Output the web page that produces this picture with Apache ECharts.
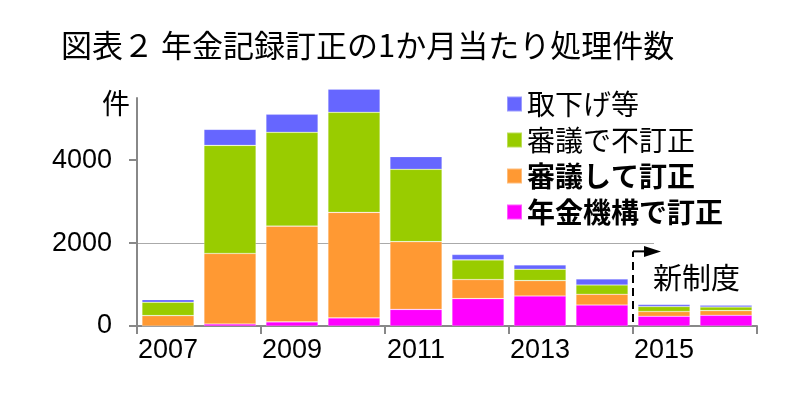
<!DOCTYPE html>
<html>
<head>
<meta charset="utf-8">
<script src="https://cdn.jsdelivr.net/npm/echarts@6/dist/echarts.min.js"></script>
<style>
html,body{margin:0;padding:0;background:#fff;}
#chart{width:810px;height:396px;}
</style>
</head>
<body>
<div id="chart"></div>
<script>
// ---- data ----
const years = ['2007','2008','2009','2010','2011','2012','2013','2014','2015','2016'];
const kikouTeisei   = [0, 50, 100, 195, 400, 660, 725, 505, 235, 258];      // 年金機構で訂正
const shingiTeisei  = [251, 1700, 2310, 2545, 1635, 460, 370, 260, 115, 114]; // 審議して訂正
const shingiFuteisei= [321, 2607, 2262, 2415, 1745, 475, 275, 225, 120, 87];  // 審議で不訂正
const torisage      = [65, 387, 435, 560, 307, 130, 105, 145, 50, 41];       // 取下げ等
const yTickValues = [0, 2000, 4000];
const seriesNames = ['取下げ等', '審議で不訂正', '審議して訂正', '年金機構で訂正'];
const titleText = '図表２ 年金記録訂正の1か月当たり処理件数';
const noteText = '新制度';
const unitText = '件';

const NUM_FONT = "'Liberation Sans','Noto Sans CJK JP',sans-serif";
const JP_FONT = "'Noto Sans CJK JP',sans-serif";
const colors = { blue:'#6666FF', green:'#99CC00', orange:'#FF9933', magenta:'#FF00FF' };

const chart = echarts.init(document.getElementById('chart'), null, {renderer:'canvas'});

function barSeries(name, data, color){
  return {
    name, type:'bar', stack:'total', data, clip:false,
    barCategoryGap:'16%',
    itemStyle:{ color, borderColor:'rgba(255,255,255,0.35)', borderWidth:0.6 },
    emphasis:{ disabled:true }
  };
}

chart.setOption({
  animation:false,
  backgroundColor:'#fff',
  title:{
    text:titleText, left:56, top:25,
    textStyle:{ fontSize:31, fontWeight:'normal', color:'#000', fontFamily:JP_FONT }
  },
  legend:{
    orient:'vertical', left:506, top:90, padding:0,
    itemWidth:15, itemHeight:15, itemGap:8, icon:'rect', selectedMode:false,
    textStyle:{ fontSize:28, color:'#000', fontFamily:JP_FONT },
    data:[
      { name:seriesNames[0] },
      { name:seriesNames[1] },
      { name:seriesNames[2], textStyle:{ fontWeight:'bold' } },
      { name:seriesNames[3], textStyle:{ fontWeight:'bold' } }
    ]
  },
  grid:{ left:137, right:53, top:98, bottom:70 },
  xAxis:{
    type:'category', data:years, boundaryGap:true,
    axisLine:{ lineStyle:{ color:'#888', width:2 } },
    axisTick:{ show:true, length:8, lineStyle:{ color:'#888', width:2 } },
    axisLabel:{ interval:1, fontSize:27, color:'#000', fontFamily:NUM_FONT, margin:11 }
  },
  yAxis:{
    type:'value', min:0, max:5500, interval:1000,
    name:unitText, nameLocation:'end', nameGap:-19,
    nameTextStyle:{ fontSize:28, color:'#000', fontFamily:JP_FONT, align:'right', padding:[0,7,0,0] },
    axisLine:{ show:true, lineStyle:{ color:'#888', width:2 } },
    axisTick:{ show:true, length:8, customValues:yTickValues, lineStyle:{ color:'#888', width:2 } },
    axisLabel:{ customValues:yTickValues, fontSize:27, color:'#000', fontFamily:NUM_FONT, margin:25,
      formatter:(v) => String(v) },
    splitLine:{ show:true, showMaxLine:false, lineStyle:{ color:'#aaa', width:1 } }
  },
  series:[
    barSeries(seriesNames[3], kikouTeisei, colors.magenta),
    barSeries(seriesNames[2], shingiTeisei, colors.orange),
    barSeries(seriesNames[1], shingiFuteisei, colors.green),
    barSeries(seriesNames[0], torisage, colors.blue)
  ]
});

// annotation: dashed boundary + arrow + 新制度
const x14 = chart.convertToPixel({xAxisIndex:0}, '2014');
const x15 = chart.convertToPixel({xAxisIndex:0}, '2015');
const xb = (x14 + x15) / 2;
const y0 = chart.convertToPixel({yAxisIndex:0}, 0);
const yArrow = chart.convertToPixel({yAxisIndex:0}, 1800);
const y2000 = chart.convertToPixel({yAxisIndex:0}, 2000);
const y1000 = chart.convertToPixel({yAxisIndex:0}, 1000);
const yTop = chart.convertToPixel({yAxisIndex:0}, 5500);
const xRight = chart.convertToPixel({xAxisIndex:0}, '2016') + (x15 - x14) / 2;
const x13 = chart.convertToPixel({xAxisIndex:0}, '2013');
const x12 = chart.convertToPixel({xAxisIndex:0}, '2012');
const maskLeft = (x12 + x13) / 2 - 52;

chart.setOption({
  graphic:[
    // white areas behind legend and note (gridlines stop there)
    { type:'rect', z:1, silent:true, shape:{ x:maskLeft, y:yTop + 2, width:xRight - maskLeft + 10, height:128 }, style:{ fill:'#fff' } },
    { type:'rect', z:1, silent:true, shape:{ x:xb + 21, y:y2000 - 5, width:xRight - xb, height:y1000 - y2000 + 10 }, style:{ fill:'#fff' } },
    { type:'line', z:10, silent:true, shape:{ x1:xb, y1:y0 - 4, x2:xb, y2:yArrow }, style:{ stroke:'#000', lineWidth:2, lineDash:[8,5] } },
    { type:'line', z:10, silent:true, shape:{ x1:xb, y1:yArrow, x2:xb + 12, y2:yArrow }, style:{ stroke:'#000', lineWidth:2 } },
    { type:'polygon', z:10, silent:true, shape:{ points:[[xb + 11, yArrow - 5.5],[xb + 28, yArrow],[xb + 11, yArrow + 5.5]] }, style:{ fill:'#000' } },
    { type:'text', z:10, silent:true, x:xb + 20, y:y1000 - 7,
      style:{ text:noteText, fontSize:29, fill:'#000', fontFamily:JP_FONT, verticalAlign:'middle', align:'left' } }
  ]
});
</script>
</body>
</html>
